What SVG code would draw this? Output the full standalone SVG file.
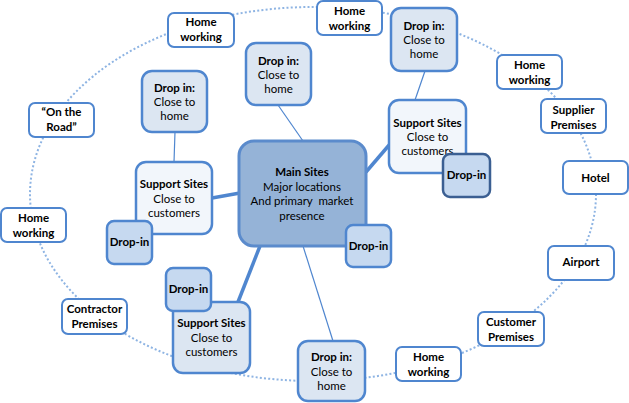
<svg xmlns="http://www.w3.org/2000/svg" width="629" height="403" viewBox="0 0 629 403">
<style>
text{font-family:Lato,"Liberation Sans",sans-serif;font-size:11.5px;fill:#000;text-anchor:middle}
.b{font-weight:bold}
.outer rect{fill:#fff;stroke:#4F86CF;stroke-width:2}
.dh rect{fill:#DCE6F2;stroke:#4F86CF;stroke-width:2.5}
.sup rect{fill:#F2F6FB;stroke:#4F86CF;stroke-width:2.5}
.di rect{fill:#C6D9F0;stroke:#4F86CF;stroke-width:2.5}
.ring{fill:none;stroke:#8EB4E3;stroke-width:2;stroke-dasharray:2 2.2}
.thin{stroke:#4F86CF;stroke-width:1.2}
.thick{stroke:#4F86CF;stroke-width:3.5}
</style>
<ellipse class="ring" cx="313" cy="194" rx="283" ry="187"/>
<g id="connectors">
<line class="thick" x1="366" y1="172" x2="390" y2="144"/>
<line class="thick" x1="212" y1="198" x2="240" y2="193"/>
<line class="thick" x1="260" y1="246" x2="238" y2="302"/>
<line class="thin" x1="303" y1="246" x2="333" y2="341"/>
<line class="thin" x1="278" y1="105" x2="303" y2="141"/>
<line class="thin" x1="175" y1="132" x2="174" y2="162"/>
<line class="thin" x1="425" y1="71" x2="415" y2="100"/>
</g>
<g id="main-sites"><rect x="239" y="141" width="127" height="105" rx="15" fill="#95B3D7" stroke="#5B8BCC" stroke-width="3"/>
<text class="b" x="302" y="176">Main Sites</text><text x="302" y="191">Major locations</text><text x="302" y="205">And primary&#160; market</text><text x="302" y="220">presence</text></g>
<g id="drop-in-main" class="di"><rect x="346" y="225" width="45" height="42" rx="7"/><text class="b" x="368.5" y="250">Drop-in</text></g>
<g id="support-left" class="sup"><rect x="136" y="162" width="76" height="72" rx="10"/><text class="b" x="174" y="188">Support Sites</text><text x="174" y="203">Close to</text><text x="174" y="217">customers</text></g>
<g id="drop-in-left" class="di"><rect x="107" y="221" width="45" height="43" rx="7"/><text class="b" x="129.5" y="246">Drop-in</text></g>
<g id="drop-home-tl" class="dh"><rect x="142" y="71" width="65" height="61" rx="10"/><text class="b" x="174.5" y="92">Drop in:</text><text x="174.5" y="106">Close to</text><text x="174.5" y="120">home</text></g>
<g id="drop-home-top" class="dh"><rect x="246" y="43" width="65" height="62" rx="10"/><text class="b" x="278.5" y="65">Drop in:</text><text x="278.5" y="79">Close to</text><text x="278.5" y="93">home</text></g>
<g id="drop-home-tr" class="dh"><rect x="391" y="8" width="66" height="63" rx="10"/><text class="b" x="424" y="30">Drop in:</text><text x="424" y="44">Close to</text><text x="424" y="58">home</text></g>
<g id="support-right" class="sup"><rect x="389" y="100" width="77" height="73" rx="10"/><text class="b" x="427.5" y="127">Support Sites</text><text x="427.5" y="141">Close to</text><text x="427.5" y="155">customers</text></g>
<g id="drop-in-right"><rect x="443" y="154" width="47" height="43" rx="7" fill="#C6D9F0" stroke="#3B5F92" stroke-width="2.5"/><text class="b" x="466.5" y="179">Drop-in</text></g>
<g id="support-bottom" class="dh"><rect x="173" y="302" width="77" height="71" rx="10"/><text class="b" x="211.5" y="327">Support Sites</text><text x="211.5" y="342">Close to</text><text x="211.5" y="356">customers</text></g>
<g id="drop-in-bottom" class="di"><rect x="166" y="268" width="45" height="43" rx="7"/><text class="b" x="188.5" y="293">Drop-in</text></g>
<g id="drop-home-bottom" class="dh"><rect x="298" y="341" width="67" height="60" rx="10"/><text class="b" x="331.5" y="361">Drop in:</text><text x="331.5" y="376">Close to</text><text x="331.5" y="390">home</text></g>
<g id="home-working-tl" class="outer"><rect x="168" y="13" width="66" height="34" rx="6"/><text class="b" x="201" y="26">Home</text><text class="b" x="201" y="41">working</text></g>
<g id="on-the-road" class="outer"><rect x="29" y="103" width="65" height="34" rx="6"/><text class="b" x="61.5" y="116">“On the</text><text class="b" x="61.5" y="131">Road”</text></g>
<g id="home-working-left" class="outer"><rect x="1" y="208" width="65" height="34" rx="6"/><text class="b" x="33.5" y="222">Home</text><text class="b" x="33.5" y="237">working</text></g>
<g id="contractor-premises" class="outer"><rect x="62" y="299" width="65" height="35" rx="6"/><text class="b" x="94.5" y="313">Contractor</text><text class="b" x="94.5" y="328">Premises</text></g>
<g id="home-working-bottom" class="outer"><rect x="396" y="347" width="65" height="34" rx="6"/><text class="b" x="428.5" y="361">Home</text><text class="b" x="428.5" y="376">working</text></g>
<g id="customer-premises" class="outer"><rect x="478" y="312" width="66" height="34" rx="6"/><text class="b" x="511" y="326">Customer</text><text class="b" x="511" y="341">Premises</text></g>
<g id="airport" class="outer"><rect x="548" y="246" width="66" height="34" rx="6"/><text class="b" x="581" y="266">Airport</text></g>
<g id="hotel" class="outer"><rect x="563" y="161" width="65" height="33" rx="6"/><text class="b" x="595.5" y="182">Hotel</text></g>
<g id="supplier-premises" class="outer"><rect x="541" y="99" width="65" height="34" rx="6"/><text class="b" x="573.5" y="114">Supplier</text><text class="b" x="573.5" y="129">Premises</text></g>
<g id="home-working-right" class="outer"><rect x="497" y="55" width="65" height="34" rx="6"/><text class="b" x="529.5" y="69">Home</text><text class="b" x="529.5" y="84">working</text></g>
<g id="home-working-top" class="outer"><rect x="317" y="1" width="65" height="34" rx="6"/><text class="b" x="349.5" y="15">Home</text><text class="b" x="349.5" y="30">working</text></g>
</svg>
